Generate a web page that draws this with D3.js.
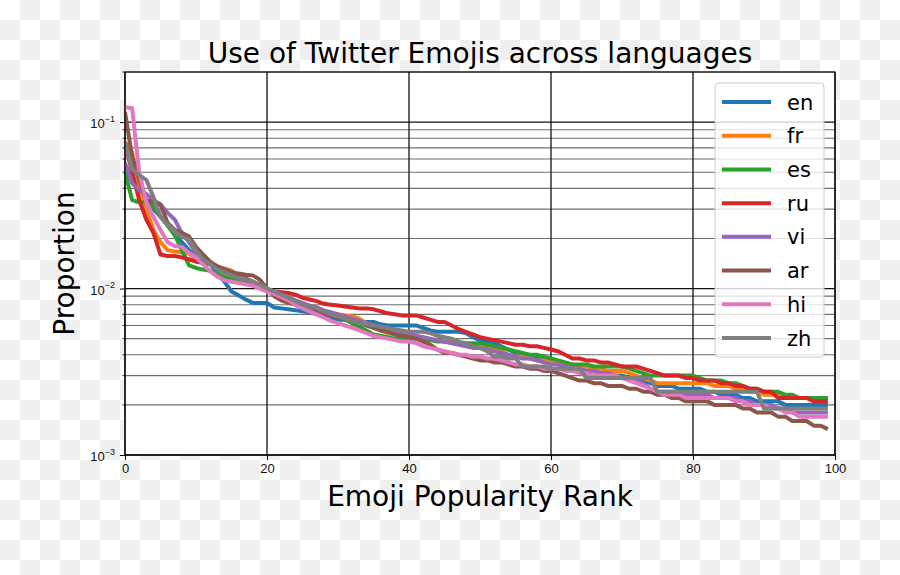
<!DOCTYPE html>
<html>
<head>
<meta charset="utf-8">
<script src="https://cdn.jsdelivr.net/npm/d3@7"></script>
<style>
  body { margin: 0; background: #fff; }
  svg { display: block; font-family: "DejaVu Sans", sans-serif; }
</style>
</head>
<body>
<script>
// languages, in plotting order
const languages = ['en', 'fr', 'es', 'ru', 'vi', 'ar', 'hi', 'zh']
const colors = ['#1f77b4', '#ff7f0e', '#2ca02c', '#d62728', '#9467bd', '#8c564b', '#e377c2', '#7f7f7f']

// proportion of each emoji rank (0..99)
const en = [
  0.055, 0.045, 0.038, 0.034, 0.030, 0.027, 0.024, 0.021, 0.019, 0.017,
  0.0155, 0.0148, 0.0140, 0.0125, 0.0110, 0.0096, 0.0091, 0.0086, 0.0082, 0.0082,
  0.0082, 0.0077, 0.0076, 0.0075, 0.0074, 0.0073, 0.0072, 0.0070, 0.0068, 0.0066,
  0.0065, 0.0065, 0.0064, 0.0063, 0.0063, 0.0063, 0.0061, 0.0060, 0.0060, 0.0060,
  0.0060, 0.0060, 0.0058, 0.0056, 0.0055, 0.0055, 0.0055, 0.0055, 0.0054, 0.0051,
  0.0049, 0.0048, 0.0047, 0.0045, 0.0043, 0.0041, 0.0040, 0.0039, 0.0038, 0.0037,
  0.0036, 0.0035, 0.0034, 0.0033, 0.0033, 0.0032, 0.0032, 0.0031, 0.0031, 0.0030,
  0.0030, 0.0029, 0.0029, 0.0028, 0.0027, 0.0026, 0.0026, 0.0026, 0.0025, 0.0025,
  0.0025, 0.0025, 0.0024, 0.0024, 0.0023, 0.0023, 0.0023, 0.0022, 0.0022, 0.0021,
  0.0021, 0.0021, 0.0021, 0.0020, 0.0020, 0.0020, 0.0020, 0.0020, 0.0020, 0.0020
]
const fr = [
  0.076, 0.066, 0.041, 0.030, 0.0225, 0.019, 0.017, 0.0167, 0.0165, 0.0162,
  0.0152, 0.0145, 0.0140, 0.0135, 0.0132, 0.0128, 0.0118, 0.0112, 0.0106, 0.0100,
  0.0097, 0.0094, 0.0090, 0.0087, 0.0084, 0.0080, 0.0079, 0.0077, 0.0073, 0.0071,
  0.0070, 0.0069, 0.0068, 0.0066, 0.0062, 0.0058, 0.0056, 0.0054, 0.0053, 0.0052,
  0.0052, 0.0051, 0.0050, 0.0049, 0.0049, 0.0048, 0.0048, 0.0047, 0.0046, 0.0045,
  0.0045, 0.0044, 0.0043, 0.0042, 0.0040, 0.0039, 0.0039, 0.0038, 0.0037, 0.0037,
  0.0036, 0.0036, 0.0035, 0.0035, 0.0034, 0.0034, 0.0033, 0.0033, 0.0032, 0.0032,
  0.0032, 0.0031, 0.0030, 0.0029, 0.0028, 0.0027, 0.0027, 0.0027, 0.0027, 0.0027,
  0.0027, 0.0027, 0.0027, 0.0026, 0.0026, 0.0026, 0.0025, 0.0025, 0.0024, 0.0024,
  0.0023, 0.0023, 0.0023, 0.0022, 0.0022, 0.0022, 0.0022, 0.0022, 0.0022, 0.0022
]
const es = [
  0.050, 0.034, 0.033, 0.033, 0.031, 0.027, 0.024, 0.021, 0.017, 0.0138,
  0.0133, 0.0130, 0.0128, 0.0122, 0.0118, 0.0114, 0.0111, 0.0108, 0.0105, 0.0101,
  0.0097, 0.0093, 0.0090, 0.0086, 0.0082, 0.0079, 0.0077, 0.0075, 0.0072, 0.0070,
  0.0068, 0.0065, 0.0062, 0.0059, 0.0056, 0.0053, 0.0052, 0.0051, 0.0050, 0.0050,
  0.0050, 0.0050, 0.0050, 0.0049, 0.0048, 0.0048, 0.0047, 0.0047, 0.0047, 0.0047,
  0.0047, 0.0046, 0.0045, 0.0044, 0.0043, 0.0042, 0.0041, 0.0040, 0.0040, 0.0039,
  0.0038, 0.0037, 0.0036, 0.0035, 0.0035, 0.0035, 0.0034, 0.0034, 0.0034, 0.0034,
  0.0034, 0.0033, 0.0032, 0.0031, 0.0030, 0.0030, 0.0030, 0.0030, 0.0030, 0.0030,
  0.0030, 0.0029, 0.0028, 0.0028, 0.0028, 0.0027, 0.0027, 0.0026, 0.0025, 0.0025,
  0.0024, 0.0024, 0.0024, 0.0023, 0.0023, 0.0022, 0.0022, 0.0022, 0.0022, 0.0022
]
const ru = [
  0.075, 0.050, 0.034, 0.026, 0.0216, 0.016, 0.0157, 0.0157, 0.0154, 0.0150,
  0.0145, 0.0143, 0.0140, 0.0135, 0.0130, 0.0125, 0.0120, 0.0115, 0.0110, 0.0104,
  0.0098, 0.0096, 0.0095, 0.0094, 0.0092, 0.0088, 0.0086, 0.0084, 0.0081, 0.0080,
  0.0079, 0.0078, 0.0077, 0.0076, 0.0076, 0.0075, 0.0073, 0.0071, 0.0070, 0.0069,
  0.0069, 0.0069, 0.0067, 0.0065, 0.0063, 0.0063, 0.0060, 0.0057, 0.0055, 0.0053,
  0.0051, 0.0050, 0.0049, 0.0048, 0.0047, 0.0046, 0.0046, 0.0045, 0.0045, 0.0044,
  0.0043, 0.0042, 0.0040, 0.0038, 0.0038, 0.0037, 0.0037, 0.0036, 0.0036, 0.0035,
  0.0034, 0.0034, 0.0034, 0.0033, 0.0032, 0.0031, 0.0030, 0.0030, 0.0030, 0.0029,
  0.0029, 0.0028, 0.0028, 0.0028, 0.0027, 0.0027, 0.0026, 0.0026, 0.0025, 0.0025,
  0.0024, 0.0024, 0.0022, 0.0022, 0.0022, 0.0022, 0.0022, 0.0021, 0.0021, 0.0021
]
const vi = [
  0.057, 0.043, 0.039, 0.037, 0.034, 0.032, 0.0285, 0.026, 0.0216, 0.019,
  0.0164, 0.0156, 0.0143, 0.0136, 0.0130, 0.0124, 0.0118, 0.0114, 0.0110, 0.0105,
  0.0100, 0.0096, 0.0092, 0.0089, 0.0085, 0.0082, 0.0079, 0.0077, 0.0074, 0.0072,
  0.0070, 0.0068, 0.0066, 0.0064, 0.0062, 0.0060, 0.0059, 0.0057, 0.0055, 0.0054,
  0.0053, 0.0052, 0.0051, 0.0050, 0.0049, 0.0048, 0.0047, 0.0046, 0.0045, 0.0044,
  0.0044, 0.0043, 0.0042, 0.0041, 0.0040, 0.0039, 0.0038, 0.0038, 0.0037, 0.0036,
  0.0035, 0.0035, 0.0034, 0.0033, 0.0033, 0.0032, 0.0032, 0.0031, 0.0031, 0.0030,
  0.0029, 0.0029, 0.0028, 0.0027, 0.0025, 0.0024, 0.0024, 0.0024, 0.0024, 0.0023,
  0.0023, 0.0023, 0.0023, 0.0022, 0.0022, 0.0022, 0.0022, 0.0021, 0.0021, 0.0020,
  0.0020, 0.0020, 0.0019, 0.0019, 0.0018, 0.0018, 0.0018, 0.0018, 0.0018, 0.0018
]
const ar = [
  0.115, 0.062, 0.045, 0.034, 0.033, 0.032, 0.0248, 0.0225, 0.0216, 0.0206,
  0.0178, 0.0160, 0.0145, 0.0136, 0.0130, 0.0126, 0.0123, 0.0121, 0.0120, 0.0113,
  0.0100, 0.0090, 0.0085, 0.0082, 0.0080, 0.0077, 0.0075, 0.0073, 0.0071, 0.0069,
  0.0067, 0.0066, 0.0064, 0.0062, 0.0060, 0.0058, 0.0056, 0.0055, 0.0053, 0.0052,
  0.0051, 0.0050, 0.0048, 0.0046, 0.0043, 0.0041, 0.0041, 0.0040, 0.0039, 0.0038,
  0.0037, 0.0037, 0.0036, 0.0036, 0.0035, 0.0034, 0.0034, 0.0033, 0.0033, 0.0032,
  0.0032, 0.0031, 0.0030, 0.0029, 0.0028, 0.0028, 0.0027, 0.0027, 0.0026, 0.0026,
  0.0026, 0.0025, 0.0025, 0.0024, 0.0024, 0.0023, 0.0023, 0.0022, 0.0022, 0.0021,
  0.0021, 0.0021, 0.0021, 0.0020, 0.0020, 0.0020, 0.0020, 0.0019, 0.0019, 0.0018,
  0.0018, 0.0018, 0.0017, 0.0017, 0.0016, 0.0016, 0.0016, 0.0015, 0.0015, 0.00143
]
const hi = [
  0.123, 0.121, 0.050, 0.033, 0.027, 0.0225, 0.019, 0.018, 0.0178, 0.0164,
  0.0154, 0.0140, 0.0127, 0.0118, 0.0112, 0.0110, 0.0108, 0.0106, 0.0104, 0.0100,
  0.0096, 0.0093, 0.0089, 0.0085, 0.0080, 0.0076, 0.0073, 0.0070, 0.0067, 0.0064,
  0.0062, 0.0060, 0.0058, 0.0056, 0.0054, 0.0052, 0.0051, 0.0050, 0.0049, 0.0048,
  0.0048, 0.0047, 0.0045, 0.0044, 0.0043, 0.0042, 0.0041, 0.0040, 0.0040, 0.0039,
  0.0039, 0.0038, 0.0038, 0.0037, 0.0036, 0.0035, 0.0035, 0.0034, 0.0034, 0.0033,
  0.0033, 0.0033, 0.0032, 0.0032, 0.0031, 0.0031, 0.0030, 0.0030, 0.0030, 0.0030,
  0.0029, 0.0028, 0.0027, 0.0026, 0.0025, 0.0024, 0.0023, 0.0023, 0.0023, 0.0022,
  0.0022, 0.0022, 0.0022, 0.0022, 0.0022, 0.0022, 0.0021, 0.0021, 0.0020, 0.0020,
  0.0020, 0.0019, 0.0019, 0.0018, 0.0018, 0.0017, 0.0017, 0.0017, 0.0017, 0.0017
]
const zh = [
  0.075, 0.052, 0.048, 0.045, 0.0355, 0.027, 0.0242, 0.022, 0.0205, 0.0197,
  0.0170, 0.0149, 0.0140, 0.0130, 0.0125, 0.0120, 0.0116, 0.0113, 0.0110, 0.0106,
  0.0100, 0.0096, 0.0092, 0.0088, 0.0084, 0.0080, 0.0078, 0.0076, 0.0073, 0.0070,
  0.0068, 0.0066, 0.0064, 0.0062, 0.0061, 0.0060, 0.0059, 0.0058, 0.0057, 0.0056,
  0.0055, 0.0055, 0.0055, 0.0054, 0.0052, 0.0051, 0.0050, 0.0048, 0.0047, 0.0045,
  0.0044, 0.0042, 0.0039, 0.0039, 0.0038, 0.0038, 0.0034, 0.0034, 0.0034, 0.0034,
  0.0033, 0.0033, 0.0033, 0.0033, 0.0033, 0.0029, 0.0029, 0.0029, 0.0029, 0.0029,
  0.0029, 0.0029, 0.0029, 0.0029, 0.0029, 0.0024, 0.0024, 0.0024, 0.0024, 0.0024,
  0.0024, 0.0024, 0.0024, 0.0024, 0.0024, 0.0024, 0.0024, 0.0024, 0.0024, 0.0024,
  0.0019, 0.0019, 0.0019, 0.0019, 0.0019, 0.0019, 0.0019, 0.0019, 0.0019, 0.0019
]
const seriesValues = [en, fr, es, ru, vi, ar, hi, zh]

// tick values
const xTicks = [0, 20, 40, 60, 80, 100]
const yMajorTicks = [1e-3, 1e-2, 1e-1]

const W = 900, H = 575
const plot = {left: 125, top: 72, right: 835, bottom: 455}

const svg = d3.select('body').append('svg')
  .attr('width', W)
  .attr('height', H)

// transparent-png checkerboard behind the figure
const defs = svg.append('defs')
const pat = defs.append('pattern')
  .attr('id', 'checker')
  .attr('width', 40).attr('height', 40)
  .attr('patternUnits', 'userSpaceOnUse')
pat.append('rect').attr('width', 40).attr('height', 40).attr('fill', '#fff')
pat.append('rect').attr('x', 20).attr('width', 20).attr('height', 20).attr('fill', '#efefef')
pat.append('rect').attr('y', 20).attr('width', 20).attr('height', 20).attr('fill', '#efefef')
svg.append('rect').attr('width', W).attr('height', H).attr('fill', 'url(#checker)')

defs.append('clipPath').attr('id', 'plotclip')
  .append('rect')
  .attr('x', plot.left).attr('y', plot.top)
  .attr('width', plot.right - plot.left)
  .attr('height', plot.bottom - plot.top)

// 比例尺
const xScale = d3.scaleLinear().domain([0, 100]).range([plot.left, plot.right])
const yScale = d3.scaleLog().domain([1e-3, 0.2]).range([plot.bottom, plot.top])

// white axes background
svg.append('rect')
  .attr('x', plot.left).attr('y', plot.top)
  .attr('width', plot.right - plot.left)
  .attr('height', plot.bottom - plot.top)
  .attr('fill', '#fff')

// grid: minor first, then major
const yMinor = yScale.ticks().filter(v => !yMajorTicks.some(m => Math.abs(m - v) < 1e-12))
const grid = svg.append('g').attr('class', 'grid')
grid.selectAll('line.minor')
  .data(yMinor)
  .enter()
  .append('line')
  .attr('class', 'minor')
  .attr('x1', plot.left).attr('x2', plot.right)
  .attr('y1', d => yScale(d)).attr('y2', d => yScale(d))
  .attr('stroke', '#6e6e6e')
  .attr('stroke-width', 1.1)
grid.selectAll('line.ymajor')
  .data(yMajorTicks)
  .enter()
  .append('line')
  .attr('class', 'ymajor')
  .attr('x1', plot.left).attr('x2', plot.right)
  .attr('y1', d => yScale(d)).attr('y2', d => yScale(d))
  .attr('stroke', '#111')
  .attr('stroke-width', 1.3)
grid.selectAll('line.xmajor')
  .data(xTicks)
  .enter()
  .append('line')
  .attr('class', 'xmajor')
  .attr('x1', d => xScale(d)).attr('x2', d => xScale(d))
  .attr('y1', plot.top).attr('y2', plot.bottom)
  .attr('stroke', '#111')
  .attr('stroke-width', 1.3)

// 折线
const line = d3.line()
  .x((d, i) => xScale(i))
  .y(d => yScale(d))

svg.append('g')
  .attr('clip-path', 'url(#plotclip)')
  .selectAll('path')
  .data(seriesValues)
  .enter()
  .append('path')
  .attr('d', line)
  .attr('fill', 'none')
  .attr('stroke', (d, i) => colors[i])
  .attr('stroke-width', 4)
  .attr('stroke-linejoin', 'round')
  .attr('stroke-linecap', 'butt')

// spines
svg.append('rect')
  .attr('x', plot.left).attr('y', plot.top)
  .attr('width', plot.right - plot.left)
  .attr('height', plot.bottom - plot.top)
  .attr('fill', 'none')
  .attr('stroke', '#000')
  .attr('stroke-width', 1.1)

// x轴
const xAxis = svg.append('g')
  .attr('transform', `translate(0,${plot.bottom})`)
  .call(d3.axisBottom(xScale).tickValues(xTicks).tickSize(5).tickPadding(4).tickFormat(d3.format('d')))
xAxis.select('.domain').remove()
xAxis.selectAll('text').attr('font-size', 13).attr('fill', '#111')

// y轴 major
const yAxis = svg.append('g')
  .attr('transform', `translate(${plot.left},0)`)
  .call(d3.axisLeft(yScale).tickValues(yMajorTicks).tickSize(5).tickPadding(5))
yAxis.select('.domain').remove()
yAxis.selectAll('text')
  .attr('font-size', 13)
  .attr('fill', '#111')
  .attr('dy', '0.45em')
  .text(null)
  .each(function(d) {
    const t = d3.select(this)
    t.append('tspan').text('10')
    t.append('tspan')
      .attr('font-size', 9)
      .attr('dy', '-0.75em')
      .text('\u2212' + Math.round(-Math.log10(d)))
  })

// y轴 minor ticks
svg.append('g')
  .selectAll('line')
  .data(yMinor)
  .enter()
  .append('line')
  .attr('x1', plot.left - 2.5).attr('x2', plot.left)
  .attr('y1', d => yScale(d)).attr('y2', d => yScale(d))
  .attr('stroke', '#000')
  .attr('stroke-width', 0.8)

// titles
svg.append('text')
  .attr('x', (plot.left + plot.right) / 2)
  .attr('y', 63)
  .attr('text-anchor', 'middle')
  .attr('font-size', 28)
  .attr('fill', '#000')
  .text('Use of Twitter Emojis across languages')

svg.append('text')
  .attr('x', (plot.left + plot.right) / 2)
  .attr('y', 506)
  .attr('text-anchor', 'middle')
  .attr('font-size', 28)
  .attr('fill', '#000')
  .text('Emoji Popularity Rank')

svg.append('text')
  .attr('transform', `translate(74,${(plot.top + plot.bottom) / 2}) rotate(-90)`)
  .attr('text-anchor', 'middle')
  .attr('font-size', 28)
  .attr('fill', '#000')
  .text('Proportion')

// 图例
const legend = svg.append('g')
legend.append('rect')
  .attr('x', 715).attr('y', 83)
  .attr('width', 109).attr('height', 274)
  .attr('rx', 4)
  .attr('fill', '#fff')
  .attr('fill-opacity', 0.8)
  .attr('stroke', '#cccccc')
  .attr('stroke-width', 1)

const rowY = d3.scalePoint().domain(languages).range([102, 338])
const item = legend.selectAll('g.item')
  .data(languages)
  .enter()
  .append('g')
  .attr('class', 'item')
  .attr('transform', d => `translate(0,${rowY(d)})`)
item.append('line')
  .attr('x1', 722).attr('x2', 771)
  .attr('stroke', (d, i) => colors[i])
  .attr('stroke-width', 4)
item.append('text')
  .attr('x', 787)
  .attr('y', 7.5)
  .attr('font-size', 21)
  .attr('fill', '#000')
  .text(d => d)
</script>
</body>
</html>
